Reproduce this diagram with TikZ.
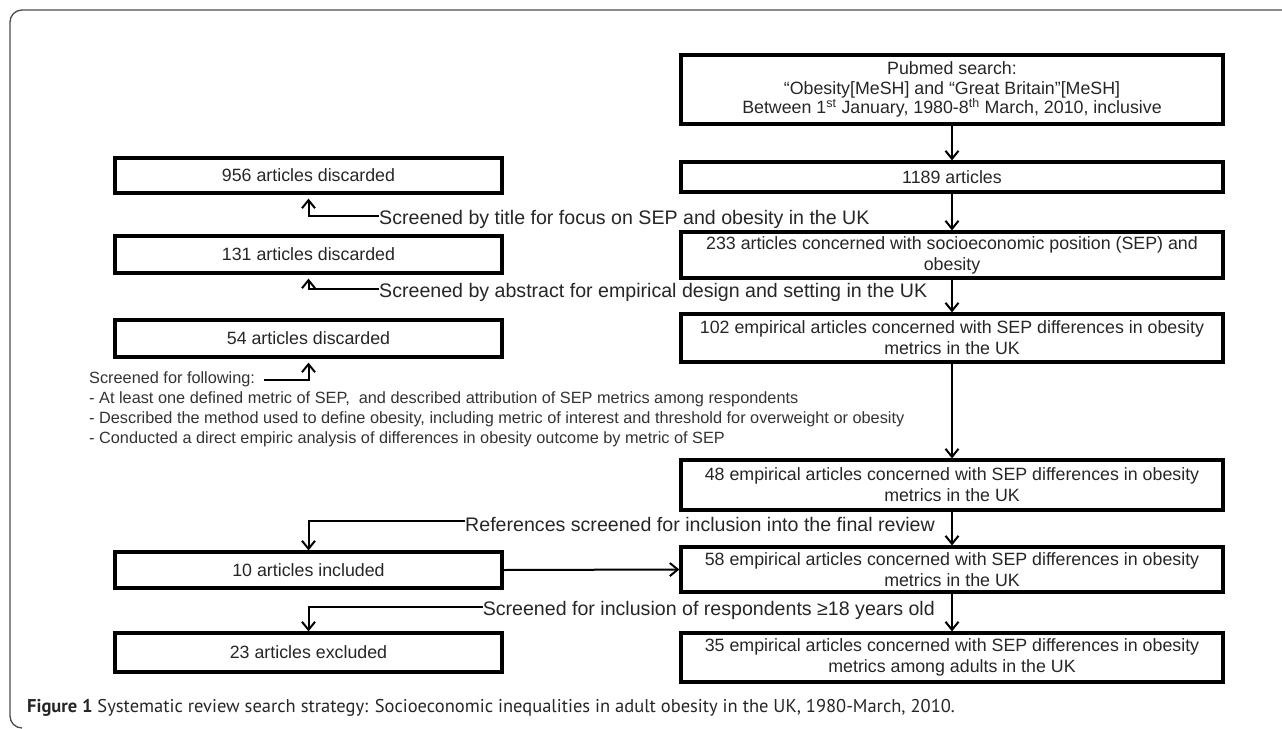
\documentclass[tikz,border=0pt]{standalone}
\usepackage{fontspec}
\setmainfont{Liberation Sans}
\newfontfamily\capfont{PT Sans}
\usetikzlibrary{arrows.meta}
\begin{document}
\begin{tikzpicture}[x=1pt,y=-1pt,
  box/.style={draw=black, line width=3.2pt, minimum width=542pt, text width=540pt, align=flush center, inner sep=0pt, font=\fontsize{17.8}{21}\selectfont, text=black!85},
  lbox/.style={box, minimum width=387pt, text width=385pt},
  arr/.style={line width=2pt, -{Straight Barb[length=8pt,width=13pt,line width=2pt]}},
  lab/.style={inner sep=0pt, font=\fontsize{19.6}{22}\selectfont, text=black!85},
  small/.style={anchor=west, inner sep=0pt, font=\fontsize{16.3}{19.5}\selectfont, text=black!80},
]
\useasboundingbox (0,0) rectangle (1282,728);
% frame
\draw[black!70, line width=1.3pt] (1282,10) -- (22,10) arc[start angle=90, end angle=180, radius=12pt] -- (10,716) arc[start angle=180, end angle=270, radius=12pt];

% right column
\node[box, minimum height=69pt, font=\fontsize{17.8}{19.5}\selectfont] (pub) at (952,89.5) {Pubmed search:\\“Obesity[MeSH] and “Great Britain”[MeSH]\\Between 1\textsuperscript{st} January, 1980-8\textsuperscript{th} March, 2010, inclusive};
\node[box, minimum height=30pt] (n1189) at (952,177) {1189 articles};
\node[box, minimum height=46pt] (n233) at (952,255) {233 articles concerned with socioeconomic position (SEP) and\\obesity};
\node[box, minimum height=48pt] (n102) at (952,338) {102 empirical articles concerned with SEP differences in obesity\\metrics in the UK};
\node[box, minimum height=50pt] (n48) at (952,485) {48 empirical articles concerned with SEP differences in obesity\\metrics in the UK};
\node[box, minimum height=45pt] (n58) at (952,569.5) {58 empirical articles concerned with SEP differences in obesity\\metrics in the UK};
\node[box, minimum height=49pt] (n35) at (952,657.5) {35 empirical articles concerned with SEP differences in obesity\\metrics among adults in the UK};

% left column
\node[lbox, minimum height=35pt] (d956) at (308.5,175.5) {956 articles discarded};
\node[lbox, minimum height=37pt] (d131) at (308.5,254.5) {131 articles discarded};
\node[lbox, minimum height=37pt] (d54) at (308.5,338.5) {54 articles discarded};
\node[lbox, minimum height=36pt] (inc10) at (308.5,570) {10 articles included};
\node[lbox, minimum height=39pt] (ex23) at (308.5,652.5) {23 articles excluded};

% labels
\node[lab, anchor=west] (tl) at (379,219) {Screened by title for focus on SEP and obesity in the UK};
\node[lab, anchor=west] (ab) at (379,292) {Screened by abstract for empirical design and setting in the UK};
\node[small] (fol) at (89,379) {Screened for following:};
\node[small] (b1) at (89,399) {- At least one defined metric of SEP,\ \ and described attribution of SEP metrics among respondents};
\node[small] (b2) at (89,419) {- Described the method used to define obesity, including metric of interest and threshold for overweight or obesity};
\node[small] (b3) at (89,439) {- Conducted a direct empiric analysis of differences in obesity outcome by metric of SEP};
\node[lab, anchor=east] (ref) at (935,524) {References screened for inclusion into the final review};
\node[lab, anchor=east] (inc) at (935,610) {Screened for inclusion of respondents ≥18 years old};

% main arrows
\draw[arr] (pub.south) -- (n1189.north);
\draw[arr] (n1189.south) -- (n233.north);
\draw[arr] (n233.south) -- (n102.north);
\draw[arr] (n102.south) -- (n48.north);
\draw[arr] (n48.south) -- (n58.north);
\draw[arr] (n58.south) -- (n35.north);
\draw[arr] (inc10.east) -- (n58.west);

% side arrows
\draw[arr] ([yshift=3pt]tl.west) -| ([yshift=-4pt]d956.south);
\draw[arr] ([yshift=3pt]ab.west) -| ([yshift=-4pt]d131.south);
\draw[arr] ([xshift=9pt,yshift=-1pt]fol.east) -| ([yshift=-4pt]d54.south);
\draw[arr] ([yshift=3pt]ref.west) -| (inc10.north);
\draw[arr] ([yshift=3pt]inc.west) -| (ex23.north);

% caption
\node[anchor=west, inner sep=0pt, font=\capfont\fontsize{18.5}{21}\selectfont, text=black!85] (cap) at (27,708) {\textbf{Figure 1} Systematic review search strategy: Socioeconomic inequalities in adult obesity in the UK, 1980-March, 2010.};
\end{tikzpicture}
\end{document}
